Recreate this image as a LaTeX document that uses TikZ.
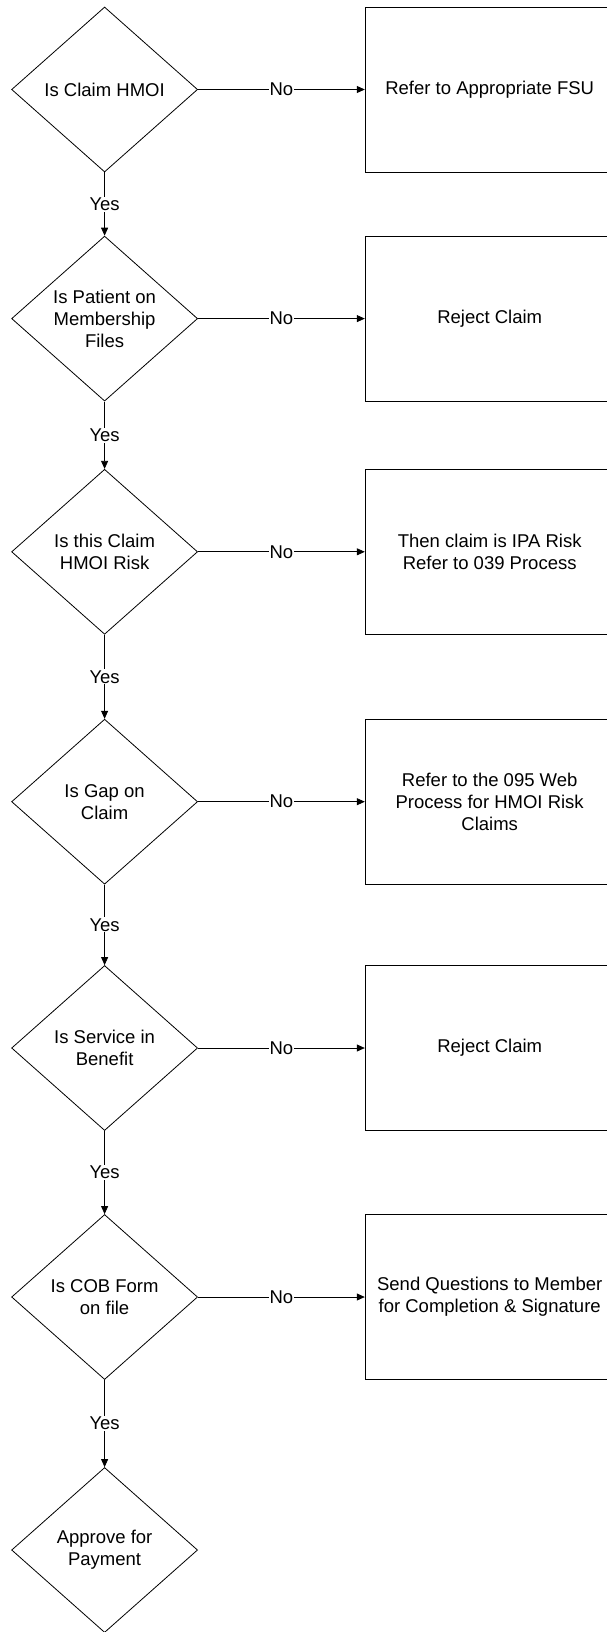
\documentclass[tikz,border=0pt]{standalone}
\usepackage{fontspec}
\setmainfont{Liberation Sans}
\usepackage{tikz}
\usetikzlibrary{arrows.meta,positioning,shapes.geometric}

\begin{document}
\begin{tikzpicture}[x=1pt,y=-1pt,
        decision/.style={
            diamond, draw=black, line width=0.8pt,
            minimum width=186pt, minimum height=165pt, inner sep=0pt,
            align=center, font=\fontsize{18.5}{22}\selectfont
        },
        action/.style={
            rectangle, draw=black, line width=0.8pt,
            minimum width=249pt, minimum height=165pt, inner sep=0pt,
            align=center, font=\fontsize{18.5}{22}\selectfont
        },
        flow/.style={-{Triangle[length=8pt,width=7pt]}, line width=0.8pt},
        lbl/.style={fill=white, inner sep=1pt, font=\fontsize{18.5}{22}\selectfont}
    ]

    \useasboundingbox (0,0) rectangle (607,1632);

    % decisions
    \node[decision] (claimhmoi) at (104.6,89.5) {Is Claim HMOI};
    \node[decision] (onfiles) at (104.6,318.6) {Is Patient on\\Membership\\Files};
    \node[decision] (hmoirisk) at (104.6,551.8) {Is this Claim\\HMOI Risk};
    \node[decision] (gapclaim) at (104.6,801.7) {Is Gap on\\Claim};
    \node[decision] (inbenefit) at (104.6,1048) {Is Service in\\Benefit};
    \node[decision] (cobform) at (104.6,1297) {Is COB Form\\on file};
    \node[decision] (approve) at (104.6,1550) {Approve for\\Payment};

    % outcomes on the "No" side
    \node[action, right=166.8pt of claimhmoi] (referfsu) {Refer to Appropriate FSU};
    \node[action, right=166.8pt of onfiles] (rejecta) {Reject Claim};
    \node[action, right=166.8pt of hmoirisk] (iparisk) {Then claim is IPA Risk\\Refer to 039 Process};
    \node[action, right=166.8pt of gapclaim] (webproc) {Refer to the 095 Web\\Process for HMOI Risk\\Claims};
    \node[action, right=166.8pt of inbenefit] (rejectb) {Reject Claim};
    \node[action, right=166.8pt of cobform] (sendq) {Send Questions to Member\\for Completion \& Signature};

    % Yes branch
    \draw[flow] (claimhmoi.south) -- node[lbl]{Yes} (onfiles.north);
    \draw[flow] (onfiles.south) -- node[lbl]{Yes} (hmoirisk.north);
    \draw[flow] (hmoirisk.south) -- node[lbl]{Yes} (gapclaim.north);
    \draw[flow] (gapclaim.south) -- node[lbl]{Yes} (inbenefit.north);
    \draw[flow] (inbenefit.south) -- node[lbl]{Yes} (cobform.north);
    \draw[flow] (cobform.south) -- node[lbl]{Yes} (approve.north);

    % No branch
    \draw[flow] (claimhmoi.east) -- node[lbl]{No} (referfsu.west);
    \draw[flow] (onfiles.east) -- node[lbl]{No} (rejecta.west);
    \draw[flow] (hmoirisk.east) -- node[lbl]{No} (iparisk.west);
    \draw[flow] (gapclaim.east) -- node[lbl]{No} (webproc.west);
    \draw[flow] (inbenefit.east) -- node[lbl]{No} (rejectb.west);
    \draw[flow] (cobform.east) -- node[lbl]{No} (sendq.west);

\end{tikzpicture}
\end{document}
